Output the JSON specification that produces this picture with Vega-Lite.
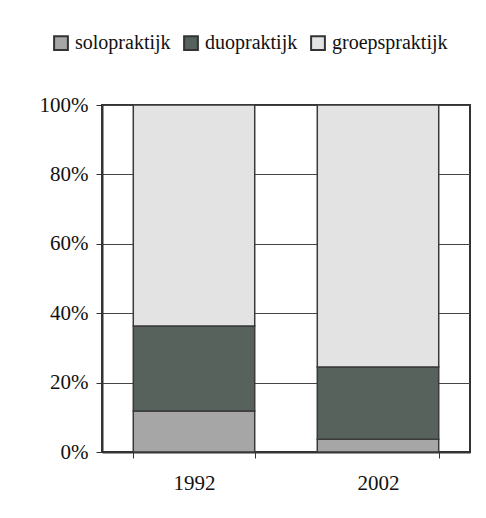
{
  "$schema": "https://vega.github.io/schema/vega-lite/v6.json",
  "width": 368,
  "height": 347,
  "autosize": {"type": "none"},
  "padding": {"left": 102, "top": 105, "right": 16, "bottom": 66},
  "background": "white",
  "data": {
    "values": [
      {"jaar": "1992", "type": "solopraktijk", "k": 1, "pct": 11.8},
      {"jaar": "1992", "type": "duopraktijk", "k": 2, "pct": 24.5},
      {"jaar": "1992", "type": "groepspraktijk", "k": 3, "pct": 63.7},
      {"jaar": "2002", "type": "solopraktijk", "k": 1, "pct": 3.7},
      {"jaar": "2002", "type": "duopraktijk", "k": 2, "pct": 20.8},
      {"jaar": "2002", "type": "groepspraktijk", "k": 3, "pct": 75.5}
    ]
  },
  "mark": {"type": "bar", "stroke": "#3a3a3a", "strokeWidth": 1.5},
  "encoding": {
    "x": {
      "field": "jaar",
      "type": "nominal",
      "scale": {"paddingInner": 0.34, "paddingOuter": 0.17},
      "axis": {
        "title": null,
        "labelAngle": 0,
        "tickBand": "extent",
        "tickSize": 6,
        "tickColor": "#333",
        "domainColor": "#333",
        "domainWidth": 2,
        "labelPadding": 14,
        "labelFont": "Liberation Serif",
        "labelFontSize": 21,
        "labelColor": "#111"
      }
    },
    "y": {
      "field": "pct",
      "type": "quantitative",
      "stack": "normalize",
      "scale": {"domain": [0, 1]},
      "axis": {
        "title": null,
        "format": ".0%",
        "values": [0, 0.2, 0.4, 0.6, 0.8, 1],
        "grid": true,
        "gridColor": "#444",
        "gridWidth": 1,
        "tickSize": 6,
        "tickColor": "#333",
        "domainColor": "#333",
        "domainWidth": 2,
        "labelPadding": 8,
        "labelFont": "Liberation Serif",
        "labelFontSize": 21,
        "labelColor": "#111"
      }
    },
    "color": {
      "field": "type",
      "type": "nominal",
      "sort": ["solopraktijk", "duopraktijk", "groepspraktijk"],
      "scale": {
        "domain": ["solopraktijk", "duopraktijk", "groepspraktijk"],
        "range": ["#a6a6a6", "#58625c", "#e3e3e3"]
      },
      "legend": {
        "title": null,
        "orient": "none",
        "direction": "horizontal",
        "legendX": -51,
        "legendY": -72,
        "symbolType": "square",
        "symbolSize": 190,
        "symbolStrokeColor": "#333",
        "symbolStrokeWidth": 2,
        "symbolOpacity": 1,
        "labelFont": "Liberation Serif",
        "labelFontSize": 20,
        "labelColor": "#111",
        "labelOffset": 4,
        "columnPadding": 9
      }
    },
    "order": {"field": "k", "type": "quantitative"}
  },
  "config": {
    "view": {"stroke": "#333", "strokeWidth": 2}
  }
}
